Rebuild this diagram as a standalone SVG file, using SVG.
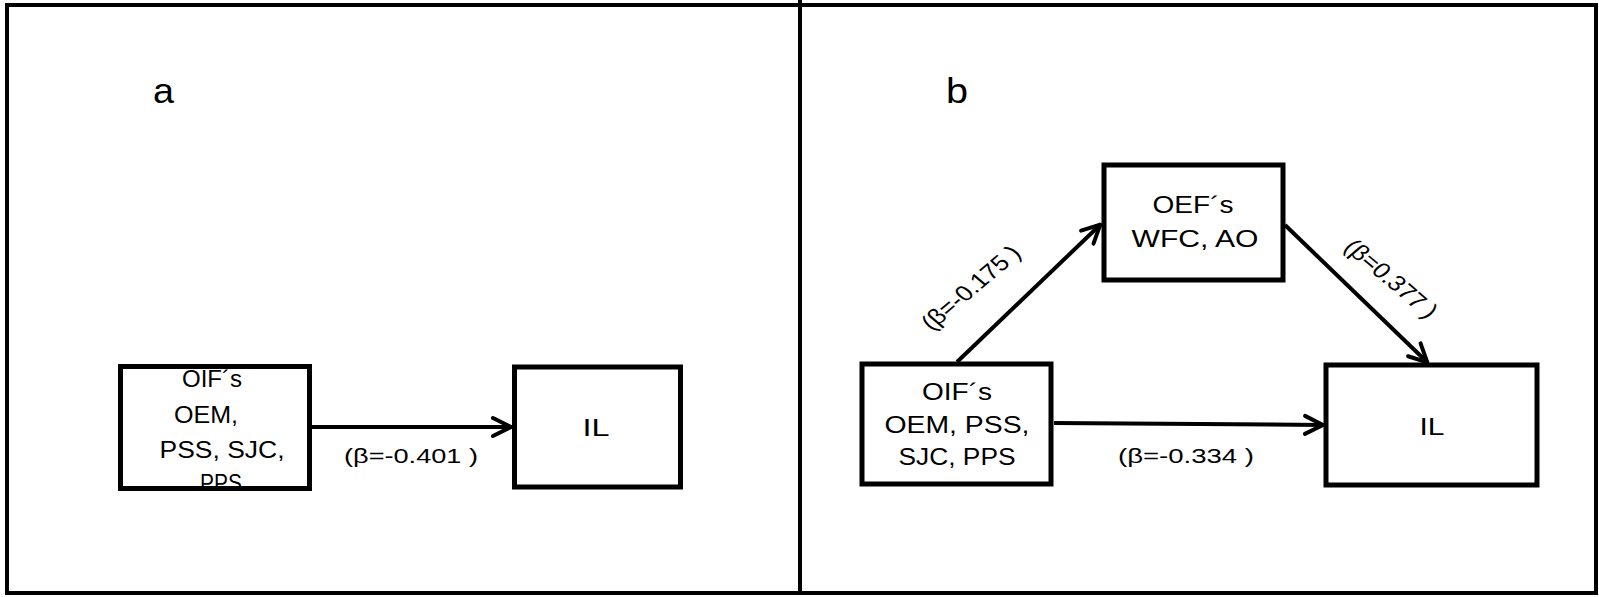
<svg xmlns="http://www.w3.org/2000/svg" width="1599" height="597" viewBox="0 0 1599 597">
<style>
.frame{fill:none;stroke:#000;stroke-width:4}
.box{fill:none;stroke:#000;stroke-width:5}
.t{font-family:"Liberation Sans",Arial,sans-serif;font-size:23px;fill:#000;text-anchor:middle}
.lbl{font-family:"Liberation Sans",Arial,sans-serif;font-size:21px;fill:#000;text-anchor:middle}
.rl{font-size:22px}
.panel{font-family:"Liberation Sans",Arial,sans-serif;font-size:35px;fill:#000}
.conn{stroke:#000;stroke-width:4;fill:none}
</style>
<defs>
<marker id="ah" markerUnits="userSpaceOnUse" viewBox="-24 -12 28 24" markerWidth="28" markerHeight="24" refX="0" refY="0" orient="auto">
<path d="M-19,-9 L-1,0 L-19,9" fill="none" stroke="#000" stroke-width="4" stroke-linecap="round" stroke-linejoin="round"/>
</marker>
</defs>
<rect width="1599" height="597" fill="#fff"/>
<rect class="frame" x="7" y="5" width="1589" height="588"/>
<line x1="800" y1="0" x2="800" y2="595" stroke="#000" stroke-width="4"/>
<text class="panel" x="153" y="103" textLength="21" lengthAdjust="spacingAndGlyphs">a</text>
<text class="panel" x="946" y="103" textLength="22" lengthAdjust="spacingAndGlyphs">b</text>

<g id="connectors">
<line class="conn" x1="312" y1="427" x2="512" y2="427" marker-end="url(#ah)"/>
<line class="conn" x1="957" y1="362" x2="1101" y2="224" marker-end="url(#ah)"/>
<line class="conn" x1="1285" y1="225" x2="1428" y2="363" marker-end="url(#ah)"/>
<line class="conn" x1="1054" y1="423" x2="1324" y2="425" marker-end="url(#ah)"/>
<text class="lbl" x="411" y="463" textLength="134" lengthAdjust="spacingAndGlyphs">(β=-0.401 )</text>
<text class="lbl" x="1186" y="463" textLength="136" lengthAdjust="spacingAndGlyphs">(β=-0.334 )</text>
<text class="lbl rl" transform="translate(977,293) scale(1.18,1) rotate(-45)" x="0" y="0">(β=-0.175 )</text>
<text class="lbl rl" transform="translate(1385,284) scale(1.18,1) rotate(45)" x="0" y="0">(β=0.377 )</text>
</g>

<g id="node-a-oif">
<text class="t" x="212" y="387" textLength="60" lengthAdjust="spacingAndGlyphs">OIF´s</text>
<text class="t" x="206" y="423" textLength="64" lengthAdjust="spacingAndGlyphs">OEM,</text>
<text class="t" x="222" y="458" textLength="125" lengthAdjust="spacingAndGlyphs">PSS,  SJC,</text>
<text class="t" x="221" y="491" textLength="42" lengthAdjust="spacingAndGlyphs">PPS</text>
<rect class="box" x="120.5" y="366.5" width="189" height="122"/>
</g>

<g id="node-a-il">
<rect class="box" x="514.5" y="367" width="166" height="120"/>
<text class="t" x="596" y="436" textLength="27" lengthAdjust="spacingAndGlyphs">IL</text>
</g>

<g id="node-b-oif">
<rect class="box" x="862" y="364" width="189" height="120"/>
<text class="t" x="957" y="400" textLength="70" lengthAdjust="spacingAndGlyphs">OIF´s</text>
<text class="t" x="957" y="433" textLength="145" lengthAdjust="spacingAndGlyphs">OEM,  PSS,</text>
<text class="t" x="957" y="465" textLength="117" lengthAdjust="spacingAndGlyphs">SJC,  PPS</text>
</g>

<g id="node-b-oef">
<rect class="box" x="1104" y="165" width="179" height="115"/>
<text class="t" x="1193" y="213" textLength="81" lengthAdjust="spacingAndGlyphs">OEF´s</text>
<text class="t" x="1195" y="247" textLength="127" lengthAdjust="spacingAndGlyphs">WFC,  AO</text>
</g>

<g id="node-b-il">
<rect class="box" x="1326" y="365" width="211" height="120"/>
<text class="t" x="1432" y="435" textLength="25" lengthAdjust="spacingAndGlyphs">IL</text>
</g>
</svg>
